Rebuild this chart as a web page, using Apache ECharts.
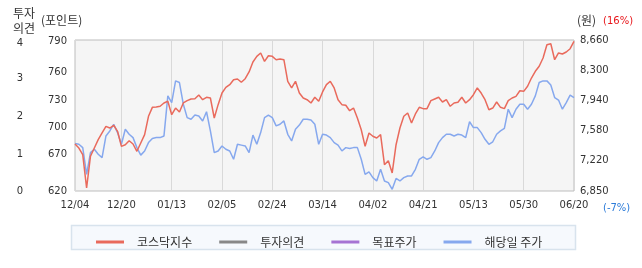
<!DOCTYPE html>
<html>
<head>
<meta charset="utf-8">
<script src="https://cdn.jsdelivr.net/npm/echarts@6/dist/echarts.min.js"></script>
<style>
html,body{margin:0;padding:0;background:#fff;}
#chart{width:642px;height:268px;}
</style>
</head>
<body>
<div id="chart"></div>
<script>
const categories = ['12/04','12/05','12/06','12/09','12/10','12/11','12/12','12/13','12/16','12/17','12/18','12/19','12/20','12/23','12/24','12/26','12/27','12/30',
'01/02','01/03','01/06','01/07','01/08','01/09','01/10','01/13','01/14','01/15','01/16','01/17','01/20','01/21','01/22','01/23','01/24','01/31',
'02/03','02/04','02/05','02/06','02/07','02/10','02/11','02/12','02/13','02/14','02/17','02/18','02/19','02/20','02/21','02/24','02/25','02/26','02/27','02/28',
'03/04','03/05','03/06','03/07','03/10','03/11','03/12','03/13','03/14','03/17','03/18','03/19','03/20','03/21','03/24','03/25','03/26','03/27','03/28','03/31',
'04/01','04/02','04/03','04/04','04/07','04/08','04/09','04/10','04/11','04/14','04/15','04/16','04/17','04/18','04/21','04/22','04/23','04/24','04/25','04/28','04/29','04/30',
'05/02','05/07','05/08','05/09','05/12','05/13','05/14','05/15','05/16','05/19','05/20','05/21','05/22','05/23','05/26','05/27','05/28','05/29','05/30',
'06/02','06/04','06/05','06/09','06/10','06/11','06/12','06/13','06/16','06/17','06/18','06/19','06/20'];

const tickLabels = ['12/04','12/20','01/13','02/05','02/24','03/14','04/02','04/21','05/13','05/30','06/20'];

// 코스닥지수 (포인트)
const kosdaqIndex = [672.9,668.4,660.9,623.4,659.1,668.4,677.8,685.3,692.8,690.9,694.0,687.2,670.3,672.1,676.6,672.9,664.7,674.0,
683.4,704.1,714.2,714.6,715.4,719.1,721.0,705.9,713.4,708.9,719.1,721.7,723.6,723.9,728.1,722.8,725.5,724.7,
702.2,717.2,730.3,736.7,739.7,745.3,746.1,742.4,746.4,754.0,765.2,771.6,775.4,766.0,772.3,771.6,767.8,768.6,767.8,743.5,
736.0,743.5,730.3,724.7,722.8,719.1,725.5,721.0,731.5,739.7,743.5,736.0,722.8,717.2,716.5,710.4,713.4,702.2,689.0,670.3,
685.3,681.6,679.7,683.4,649.6,654.1,640.3,672.1,690.9,704.1,707.8,696.6,706.7,714.2,712.7,712.7,721.7,723.6,725.5,720.2,722.8,715.4,
719.1,719.9,725.5,719.1,722.8,728.4,736.0,730.3,722.8,711.5,713.4,720.2,714.2,712.7,721.7,724.7,726.6,732.9,732.2,
737.9,747.2,754.8,760.4,769.7,784.7,785.8,767.8,775.4,774.2,776.5,780.2,788.5];

// 해당일 주가 (원)
const stockPrice = [7420,7410,7370,7050,7310,7350,7290,7250,7510,7570,7650,7550,7410,7590,7530,7490,7370,7280,
7330,7430,7480,7490,7490,7510,7990,7910,8170,8150,7890,7730,7710,7760,7750,7690,7800,7570,
7310,7330,7390,7350,7330,7230,7410,7400,7390,7310,7520,7410,7550,7730,7760,7730,7630,7650,7690,7530,
7450,7590,7640,7710,7710,7700,7650,7410,7530,7520,7490,7430,7400,7330,7370,7360,7370,7370,7230,7050,
7080,7010,6970,7110,6970,6950,6870,7000,6970,7010,7030,7030,7110,7230,7260,7230,7250,7330,7430,7490,7530,7530,
7510,7530,7520,7490,7680,7610,7610,7550,7470,7410,7440,7530,7570,7600,7830,7730,7830,7890,7890,
7830,7890,7990,8150,8170,8170,8120,7970,7940,7830,7910,8000,7970];

// 투자의견 / 목표주가 (no values in the period)
const opinion = [];
const targetPrice = [];

const opinionTickLabels = ['0','1','2','3','4'];
const pointTickLabels = ['620','670','700','730','760','790'];
const priceTickLabels = ['6,850','7,220','7,580','7,940','8,300','8,660'];

const NUM_FONT = "'DejaVu Sans','Noto Sans CJK KR',sans-serif";
const KR_FONT = "'Noto Sans CJK KR','DejaVu Sans',sans-serif";

const chart = echarts.init(document.getElementById('chart'), null, {renderer: 'canvas'});

const pointShift = ['p0', 'up6', 'up3', 'p0', 'dn2', 'dn1'];
const opinionShift = ['p0', 'dn1', 'dn1', 'dn1', 'dn3'];
const richShifts = {
  p0: {padding: [0, 0, 0, 0]},
  up6: {padding: [0, 0, 12, 0]},
  up3: {padding: [0, 0, 6, 0]},
  dn1: {padding: [2, 0, 0, 0]},
  dn2: {padding: [4, 0, 0, 0]},
  dn3: {padding: [6, 0, 0, 0]}
};
function withRich(style) {
  const r = {};
  for (const k in richShifts) r[k] = Object.assign({fontSize: 10, fontFamily: NUM_FONT, color: '#333'}, richShifts[k], style || {});
  return r;
}

const option = {
  animation: false,
  textStyle: {fontFamily: NUM_FONT},
  grid: {
    left: 75, right: 68, top: 40, bottom: 77,
    show: true, backgroundColor: '#f5f5f5', borderColor: '#bdbdbd', borderWidth: 1
  },
  xAxis: {
    type: 'category',
    data: categories,
    boundaryGap: false,
    axisLine: {show: false},
    axisTick: {show: false},
    axisLabel: {
      interval: (i, v) => tickLabels.includes(v),
      color: '#333', fontSize: 10, fontFamily: NUM_FONT, margin: 9
    },
    splitLine: {
      show: true,
      interval: (i, v) => tickLabels.includes(v),
      lineStyle: {color: '#d9d9d9', width: 1}
    }
  },
  yAxis: [
    {
      type: 'value', position: 'left', offset: 44, min: 0, max: 4, interval: 1,
      axisLine: {show: false}, axisTick: {show: false}, splitLine: {show: false},
      axisLabel: {
        margin: 8,
        formatter: v => '{' + opinionShift[Math.round(v)] + '|' + opinionTickLabels[Math.round(v)] + '}',
        rich: withRich()
      }
    },
    {
      type: 'value', position: 'left', offset: 0, min: 620, max: 790, interval: 34,
      axisLine: {show: false}, axisTick: {show: false}, splitLine: {show: false},
      axisLabel: {
        margin: 8,
        formatter: v => {
          const k = Math.round((v - 620) / 34);
          return '{' + pointShift[k] + '|' + pointTickLabels[k] + '}';
        },
        rich: withRich()
      }
    },
    {
      type: 'value', position: 'right', offset: 0, min: 6850, max: 8660, interval: 362,
      axisLine: {show: false}, axisTick: {show: false}, splitLine: {show: false},
      axisLabel: {
        margin: 6, color: '#333', fontSize: 10, fontFamily: NUM_FONT,
        formatter: v => priceTickLabels[Math.round((v - 6850) / 362)]
      }
    }
  ],
  legend: {
    left: 91, top: 229,
    icon: 'rect', itemWidth: 28, itemHeight: 3, itemGap: 27,
    textStyle: {fontSize: 12, fontFamily: KR_FONT, color: '#333', padding: [0, 0, 0, 8], lineHeight: 16},
    data: ['코스닥지수', '투자의견', '목표주가', '해당일 주가']
  },
  graphic: [
    {type: 'rect', z: 0, shape: {x: 71.5, y: 225.5, width: 504, height: 24},
     style: {fill: '#f6f9fd', stroke: '#d8e3ed', lineWidth: 1.5}},
    {type: 'text', left: 13, top: 7, style: {text: '투자', font: "12px " + KR_FONT, fill: '#333'}},
    {type: 'text', left: 13, top: 22, style: {text: '의견', font: "12px " + KR_FONT, fill: '#333'}},
    {type: 'text', left: 41, top: 14, style: {text: '(포인트)', font: "12px " + KR_FONT, fill: '#333'}},
    {type: 'text', left: 577, top: 14, style: {text: '(원)', font: "12px " + KR_FONT, fill: '#333'}},
    {type: 'text', left: 603, top: 16, style: {text: '(16%)', font: "10px " + NUM_FONT, fill: '#e8161b'}},
    {type: 'text', left: 603, top: 203, style: {text: '(-7%)', font: "10px " + NUM_FONT, fill: '#2b7bd9'}}
  ],
  series: [
    {name: '코스닥지수', type: 'line', yAxisIndex: 1, data: kosdaqIndex, symbol: 'none',
     color: '#e96a5c', lineStyle: {width: 1.5, color: '#e96a5c'}, z: 3},
    {name: '투자의견', type: 'line', yAxisIndex: 0, data: opinion, symbol: 'none',
     color: '#888888', lineStyle: {width: 1.5}},
    {name: '목표주가', type: 'line', yAxisIndex: 2, data: targetPrice, symbol: 'none',
     color: '#a673d3', lineStyle: {width: 1.5}},
    {name: '해당일 주가', type: 'line', yAxisIndex: 2, data: stockPrice, symbol: 'none',
     color: '#86a8ee', lineStyle: {width: 1.5, color: '#86a8ee'}, z: 2}
  ]
};
chart.setOption(option);
</script>
</body>
</html>
